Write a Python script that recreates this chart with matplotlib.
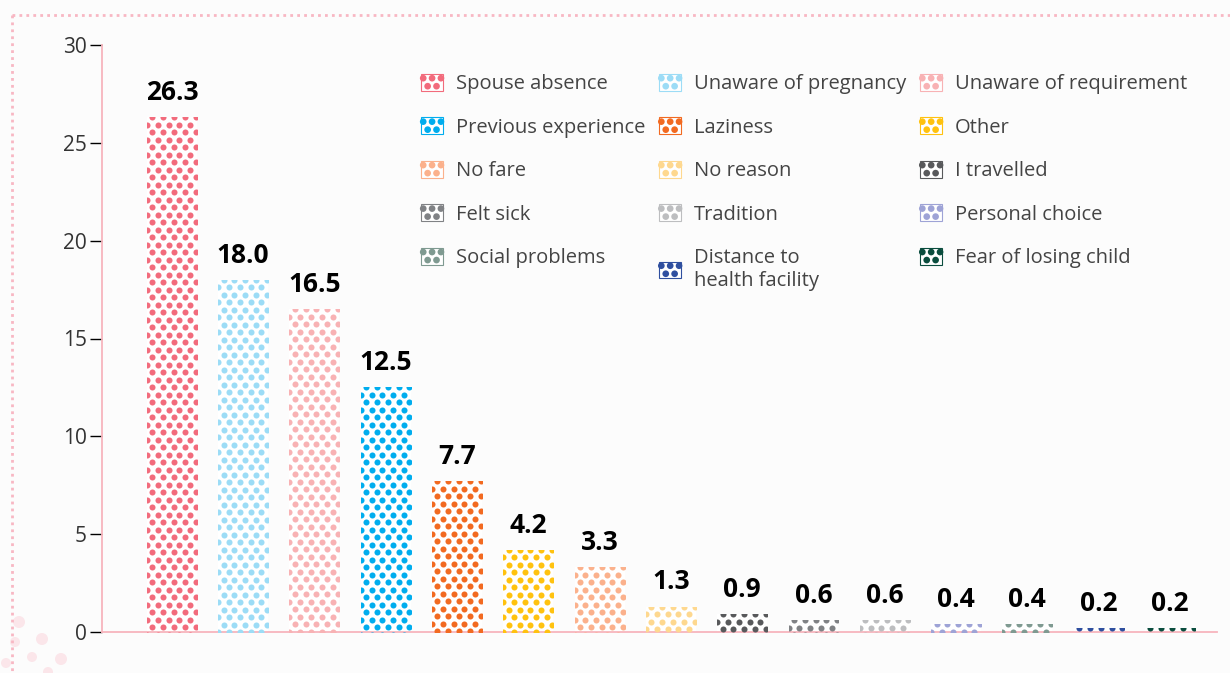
import numpy as np
import matplotlib.pyplot as plt
from matplotlib.patches import Rectangle, Circle, Patch
from matplotlib.lines import Line2D
from matplotlib.legend_handler import HandlerBase

plt.rcParams['font.family'] = ['Open Sans', 'DejaVu Sans']

# Données (%) triées par valeur
reasons = ['Spouse absence', 'Unaware of pregnancy', 'Unaware of requirement',
           'Previous experience', 'Laziness', 'Other', 'No fare', 'No reason',
           'I travelled', 'Felt sick', 'Tradition', 'Personal choice',
           'Social problems', 'Distance to\nhealth facility', 'Fear of losing child']
values = [26.3, 18.0, 16.5, 12.5, 7.7, 4.2, 3.3, 1.3, 0.9, 0.6, 0.6, 0.4, 0.4, 0.2, 0.2]
colors = ['#f26b7c', '#9cdcf6', '#f8b2b4', '#00adee', '#f26a21', '#ffc20f',
          '#fbb18c', '#fed88f', '#58595b', '#808285', '#bdbec0', '#9ea3d6',
          '#7f9a91', '#2f4f9f', '#0b4d3e']
legend_order = ['Spouse absence', 'Previous experience', 'No fare', 'Felt sick',
                'Social problems', 'Unaware of pregnancy', 'Laziness', 'No reason',
                'Tradition', 'Distance to\nhealth facility', 'Unaware of requirement',
                'Other', 'I travelled', 'Personal choice', 'Fear of losing child']
y_ticks = [0, 5, 10, 15, 20, 25, 30]

W, H, DPI = 1230, 673, 100
BG = '#fcfcfc'
PINK = '#f7b5bd'

fig = plt.figure(figsize=(W / DPI, H / DPI), dpi=DPI, facecolor=BG)
ax = fig.add_axes([102 / W, 1 - 632 / H, (1217 - 102) / W, (632 - 45) / H])
ax.set_facecolor(BG)

x = np.arange(len(values))
bar_w = 0.7
ax.set_xlim(-0.98, 14.66)
ax.set_ylim(0, 30)

bars = ax.bar(x, values, width=bar_w, color='white', edgecolor='none', zorder=2)

# motif de points (espacement en pixels -> unités de données)
px_x = (1217 - 102) / (14.66 + 0.98)
px_y = (632 - 45) / 30
dx = 10.8 / px_x
dy = 7.5 / px_y
for rect, v, c in zip(bars, values, colors):
    x0 = rect.get_x()
    xs, ys = [], []
    row = 0
    while row * dy < v + dy:
        shift = (row % 2) * dx / 2
        cols = np.arange(x0 - dx / 2 + shift, x0 + bar_w + dx, dx)
        xs.extend(cols)
        ys.extend([v - row * dy] * len(cols))
        row += 1
    sc = ax.scatter(xs, ys, s=19, color=c, linewidths=0, zorder=3)
    sc.set_clip_path(rect)
    ax.annotate(f'{v:.1f}', (rect.get_x() + bar_w / 2, v), xytext=(0, 8),
                textcoords='offset points', ha='center', va='bottom',
                fontsize=19, fontweight='bold', color='black')

ax.set_yticks(y_ticks)
ax.set_xticks([])
ax.tick_params(axis='y', length=9, width=1, color='black', labelsize=15,
               labelcolor='#333333', pad=2)
for s in ['top', 'right']:
    ax.spines[s].set_visible(False)
for s in ['left', 'bottom']:
    ax.spines[s].set_color(PINK)
    ax.spines[s].set_linewidth(1.3)


class DotHandler(HandlerBase):
    def create_artists(self, legend, orig_handle, xdescent, ydescent,
                       width, height, fontsize, trans):
        c = orig_handle.get_facecolor()
        arts = [Rectangle((-xdescent, -ydescent), width, height, facecolor='white',
                          edgecolor=c, lw=0.8, transform=trans)]
        r = height * 0.2
        for fx, fy in [(0.1, 0.75), (0.5, 0.75), (0.9, 0.75), (0.3, 0.27), (0.7, 0.27)]:
            arts.append(Circle((-xdescent + fx * width, -ydescent + fy * height), r,
                               facecolor=c, edgecolor='none', transform=trans))
        return arts


col_of = dict(zip(reasons, colors))
handles = [Patch(facecolor=col_of[r]) for r in legend_order]
fig.legend(handles, legend_order, handler_map={Patch: DotHandler()},
           loc='upper left', bbox_to_anchor=(421 / W, 1 - 74 / H), ncol=3,
           frameon=False, fontsize=14.5, labelcolor='#444444', borderpad=0,
           borderaxespad=0, handlelength=1.1, handleheight=0.9,
           handletextpad=0.62, columnspacing=0.7, labelspacing=1.15)

# bordure pointillée et cercles décoratifs
fig.add_artist(Line2D([12 / W, 1], [1 - 15 / H, 1 - 15 / H], color='#f8b7c3',
                      lw=2, ls=(0, (1, 1.5)), transform=fig.transFigure))
fig.add_artist(Line2D([12 / W, 12 / W], [1 - 15 / H, 0], color='#f8b7c3',
                      lw=2, ls=(0, (1, 1.5)), transform=fig.transFigure))
for cx, cy, r in [(19, 622, 6), (42, 639, 6), (15, 642, 5), (32, 657, 5),
                  (61, 659, 6), (6, 663, 5), (48, 672, 5)]:
    fig.add_artist(Circle((cx, H - cy), r, transform=None, facecolor='#fbe6ea',
                          edgecolor='none', zorder=0))

fig.savefig('out.png', dpi=DPI, facecolor=BG)
